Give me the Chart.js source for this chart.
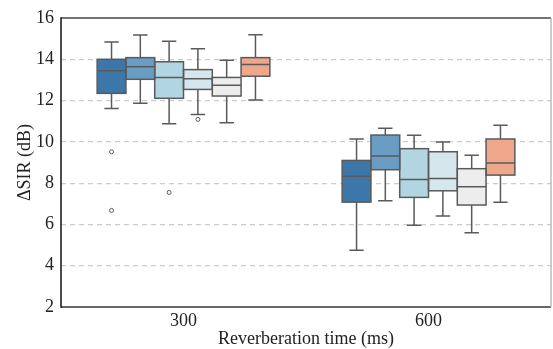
<!DOCTYPE html>
<html>
<head>
<meta charset="utf-8">
<script src="https://cdn.jsdelivr.net/npm/chart.js@4/dist/chart.umd.min.js"></script>
<style>
  html, body { margin: 0; padding: 0; background: #fff; }
  #wrap { width: 553px; height: 349px; position: relative; }
</style>
</head>
<body>
<div id="wrap"><canvas id="c" width="553" height="349"></canvas></div>
<script>
// ---- Data ----
const categories = ['300', '600'];
const yTicks = [2, 4, 6, 8, 10, 12, 14, 16];

// each entry per category: [whiskerLow, Q1, median, Q3, whiskerHigh]
const series1 = [[11.62, 12.35, 13.45, 14.00, 14.84], [4.75, 7.08, 8.33, 9.10, 10.14]];
const series2 = [[11.87, 13.03, 13.64, 14.08, 15.18], [7.15, 8.65, 9.31, 10.33, 10.66]];
const series3 = [[10.88, 12.11, 13.12, 13.88, 14.87], [5.96, 7.31, 8.18, 9.67, 10.32]];
const series4 = [[11.32, 12.54, 13.06, 13.50, 14.51], [6.41, 7.63, 8.23, 9.52, 9.99]];
const series5 = [[10.93, 12.22, 12.74, 13.12, 13.95], [5.60, 6.94, 7.83, 8.70, 9.35]];
const series6 = [[12.03, 13.18, 13.75, 14.08, 15.19], [7.07, 8.39, 8.97, 10.14, 10.80]];

// outliers per category
const outliers1 = [[9.52, 6.68], []];
const outliers2 = [[], []];
const outliers3 = [[7.55], []];
const outliers4 = [[11.09], []];
const outliers5 = [[], []];
const outliers6 = [[], []];

const seriesNames = ['Series 1', 'Series 2', 'Series 3', 'Series 4', 'Series 5', 'Series 6'];
const allSeries = [series1, series2, series3, series4, series5, series6];
const allOutliers = [outliers1, outliers2, outliers3, outliers4, outliers5, outliers6];
const colors = ['#3d76a8', '#6a9dc3', '#b2d5e2', '#d5e6ef', '#ededed', '#eea78a'];
const edgeColor = '#5a5a5a';

const datasets = allSeries.map((s, k) => ({
  label: seriesNames[k],
  data: s.map(v => [v[1], v[3]]),
  backgroundColor: colors[k],
  borderWidth: 0,
  borderSkipped: false,
  categoryPercentage: 0.705,
  barPercentage: 1.0,
  stats: s,
  outliers: allOutliers[k]
}));

const boxPlugin = {
  id: 'boxPlugin',
  afterDatasetsDraw(chart) {
    const ctx = chart.ctx;
    const ys = chart.scales.y;
    ctx.save();
    ctx.strokeStyle = edgeColor;
    ctx.lineWidth = 1.5;
    chart.data.datasets.forEach((ds, di) => {
      const meta = chart.getDatasetMeta(di);
      meta.data.forEach((el, i) => {
        const st = ds.stats[i];
        const x = el.x, w = el.width;
        const pLow = ys.getPixelForValue(st[0]);
        const pQ1 = ys.getPixelForValue(st[1]);
        const pMed = ys.getPixelForValue(st[2]);
        const pQ3 = ys.getPixelForValue(st[3]);
        const pHigh = ys.getPixelForValue(st[4]);
        const half = w / 2;
        const cap = w / 4;
        ctx.lineWidth = 1.5;
        ctx.strokeRect(x - half, pQ3, w, pQ1 - pQ3);
        ctx.beginPath();
        // median
        ctx.moveTo(x - half, pMed); ctx.lineTo(x + half, pMed);
        // whiskers
        ctx.moveTo(x, pQ3); ctx.lineTo(x, pHigh);
        ctx.moveTo(x, pQ1); ctx.lineTo(x, pLow);
        // caps
        ctx.moveTo(x - cap, pHigh); ctx.lineTo(x + cap, pHigh);
        ctx.moveTo(x - cap, pLow); ctx.lineTo(x + cap, pLow);
        ctx.stroke();
        // outliers
        ctx.lineWidth = 1;
        (ds.outliers[i] || []).forEach(v => {
          const py = ys.getPixelForValue(v);
          ctx.beginPath();
          ctx.arc(x, py, 2, 0, Math.PI * 2);
          ctx.stroke();
        });
      });
    });
    // frame
    const a = chart.chartArea;
    ctx.lineWidth = 1.5;
    ctx.strokeStyle = '#444';
    ctx.beginPath(); ctx.moveTo(a.left, a.top); ctx.lineTo(a.right, a.top); ctx.stroke();
    ctx.strokeStyle = '#333';
    ctx.beginPath(); ctx.moveTo(a.left, a.bottom); ctx.lineTo(a.right, a.bottom); ctx.stroke();
    ctx.strokeStyle = '#bbb';
    ctx.beginPath(); ctx.moveTo(a.right, a.top); ctx.lineTo(a.right, a.bottom); ctx.stroke();
    ctx.strokeStyle = '#111';
    ctx.beginPath(); ctx.moveTo(a.left, a.top - 0.75); ctx.lineTo(a.left, a.bottom + 0.75); ctx.stroke();
    ctx.restore();
  }
};

const serif = "'Liberation Serif', 'DejaVu Serif', serif";

new Chart(document.getElementById('c'), {
  type: 'bar',
  data: { labels: categories, datasets },
  plugins: [boxPlugin],
  options: {
    responsive: false,
    animation: false,
    devicePixelRatio: 1,
    layout: { padding: { left: 0, top: 18, right: 2, bottom: 0 } },
    plugins: { legend: { display: false }, tooltip: { enabled: false } },
    scales: {
      x: {
        grid: { display: false, drawTicks: false },
        border: { display: false },
        ticks: { color: '#222', font: { family: serif, size: 18 }, padding: 3 },
        title: { display: true, text: 'Reverberation time (ms)', color: '#222',
                 font: { family: serif, size: 18, lineHeight: 1.1 }, padding: { top: 0, bottom: 0 } },
        afterFit(scale) { scale.height = 42; }
      },
      y: {
        min: 2, max: 16,
        afterBuildTicks(scale) { scale.ticks = yTicks.map(v => ({ value: v })); },
        grid: {
          drawTicks: false,
          color: ctx => (ctx.tick && (ctx.tick.value === 2 || ctx.tick.value === 16)) ? 'rgba(0,0,0,0)' : '#cccccc',
          lineWidth: 1.2
        },
        border: { display: false, dash: [5, 4] },
        ticks: { color: '#222', font: { family: serif, size: 18 }, padding: 7 },
        title: { display: true, text: 'ΔSIR (dB)', color: '#222',
                 font: { family: serif, size: 18, lineHeight: 1.2 }, padding: { top: 14, bottom: 0 } },
        afterFit(scale) { scale.width = 61; }
      }
    }
  }
});
</script>
</body>
</html>
